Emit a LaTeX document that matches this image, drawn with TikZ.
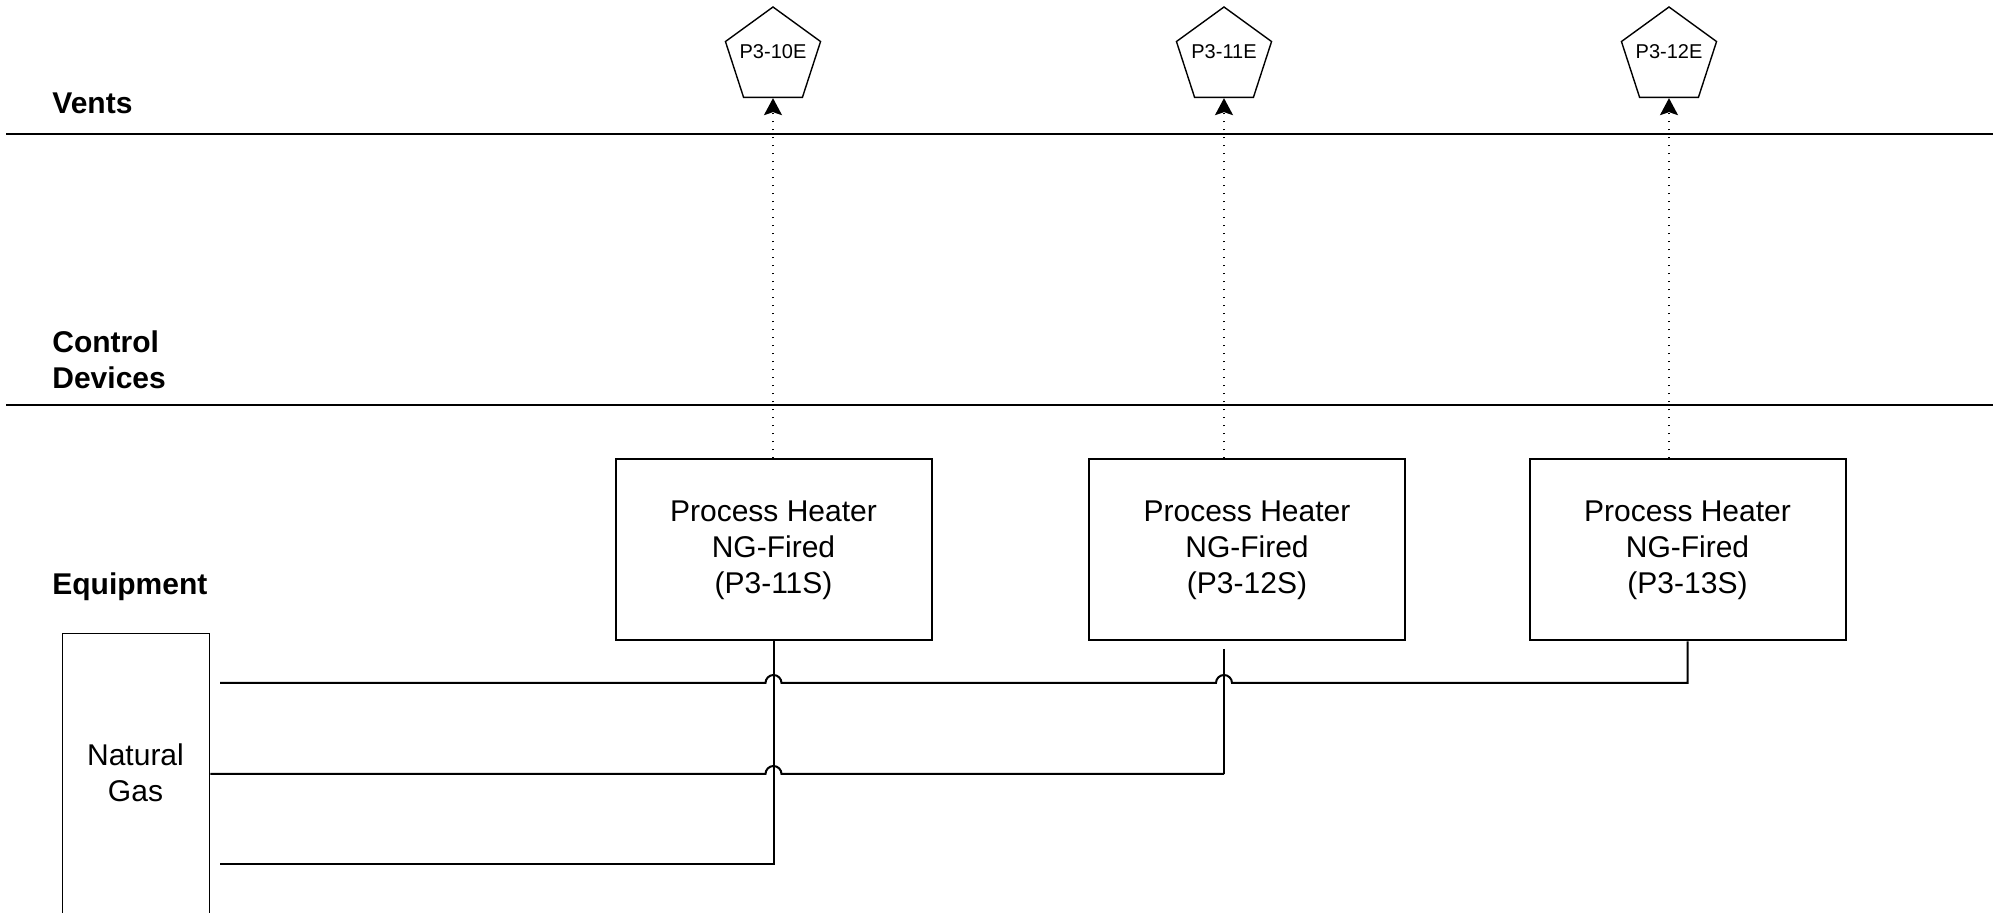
\documentclass[tikz,border=0pt]{standalone}
\usepackage{fontspec}
\setmainfont{Liberation Sans}
\usetikzlibrary{shapes.geometric,arrows.meta}

\begin{document}
\begin{tikzpicture}[x=0.5pt,y=-0.5pt,
  lane/.style={line width=1pt},
  pipe/.style={line width=1pt},
  lanelabel/.style={font=\fontsize{15}{18}\selectfont\bfseries, inner sep=0pt, align=left},
  heater/.style={draw, line width=1pt, minimum width=158pt, minimum height=90.5pt,
    inner sep=0pt, align=center, font=\fontsize{15}{18}\selectfont},
  gasbox/.style={draw, line width=0.7pt, minimum width=73.5pt, minimum height=170pt,
    inner sep=0pt, anchor=north west},
  vent/.style={draw, line width=0.7pt, regular polygon, regular polygon sides=5,
    minimum size=50pt, inner sep=0pt,
    label={[font=\fontsize{10}{12}\selectfont, inner sep=0pt, yshift=2.5pt]center:#1}},
  emission/.style={line width=0.8pt, dash pattern=on 0.6pt off 3.4pt,
    -{Stealth[length=8.5pt,width=9pt,inset=1.5pt]}},
  hop/.style={start angle=180, end angle=0, radius=4pt}]

\useasboundingbox (0,0) rectangle (2004,913);

% lane separators
\draw[lane] (6,134) -- (1993,134);
\draw[lane] (6,405) -- (1993,405);

% lane titles
\node[lanelabel, anchor=base west] (lvents) at (52,114) {Vents};
\node[lanelabel, anchor=base west] (lctrl1) at (52,353) {Control};
\node[lanelabel, anchor=base west] (lctrl2) at (52,389) {Devices};
\node[lanelabel, anchor=base west] (lequip) at (52,595) {Equipment};

% vents
\node[vent=P3-10E] (v1) at (773,57) {};
\node[vent=P3-11E] (v2) at (1224,57) {};
\node[vent=P3-12E] (v3) at (1669,57) {};

% heaters
\node[heater] (h1) at (773.5,550) {Process Heater\\NG-Fired\\(P3-11S)};
\node[heater] (h2) at (1247,550) {Process Heater\\NG-Fired\\(P3-12S)};
\node[heater] (h3) at (1687.5,550) {Process Heater\\NG-Fired\\(P3-13S)};

% natural gas supply
\node[gasbox] (ng) at (62,633) {};
\node[font=\fontsize{15}{18}\selectfont, align=center, inner sep=0pt] (ngtext) at (135.5,773) {Natural\\Gas};

% emission paths
\draw[emission] (v1.south |- h1.north) -- (v1.south);
\draw[emission] (v2.south |- h2.north) -- (v2.south);
\draw[emission] (v3.south |- h3.north) -- (v3.south);

% gas feed lines
\coordinate (g1) at (220,683);
\coordinate (g3) at (220,864);
\coordinate (c2) at (1224,649);

\draw[pipe] (g3) -- (h1.south |- g3) -- (h1.south);
\draw[pipe] (c2) -- (1224,774);
\draw[pipe] (ng.east |- 0,774) -- (765.5,774) arc[hop] -- (1224,774);
\draw[pipe] (g1) -- (765.5,683) arc[hop] -- (1216,683) arc[hop] -- (h3.south |- g1) -- (h3.south);

\end{tikzpicture}
\end{document}
